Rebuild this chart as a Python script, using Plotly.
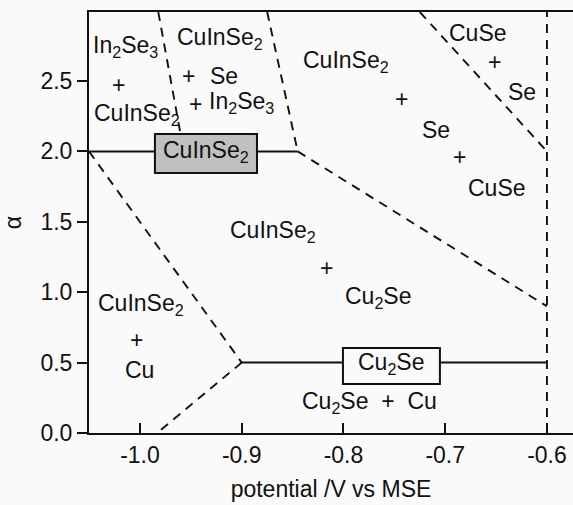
import plotly.graph_objects as go

# Phase boundaries of the Cu-In-Se electrodeposition diagram
# (x: potential / V vs MSE, y: alpha)
dashed_boundaries = [
    ([-1.0501, -0.90], [2.00, 0.50]),    # CuInSe2+Cu / CuInSe2+Cu2Se
    ([-0.90, -0.983], [0.50, 0.00]),     # CuInSe2+Cu / Cu2Se+Cu
    ([-0.982, -0.957], [2.99, 2.00]),    # In2Se3+CuInSe2 / CuInSe2+Se+In2Se3
    ([-0.875, -0.845], [2.99, 2.00]),    # CuInSe2+Se+In2Se3 / CuInSe2+Se+CuSe
    ([-0.845, -0.60], [2.00, 0.90]),     # CuInSe2+Cu2Se / CuInSe2+Se+CuSe
    ([-0.725, -0.60], [2.99, 2.00]),     # CuSe+Se / CuInSe2+Se+CuSe
    ([-0.60, -0.60], [0.00, 2.99]),      # right limit
]
solid_boundaries = [
    ([-1.0501, -0.845], [2.00, 2.00]),   # CuInSe2 single phase
    ([-0.90, -0.60], [0.50, 0.50]),      # Cu2Se single phase
]

# Region labels: text, x, y
region_text = [
    "In<sub>2</sub>Se<sub>3</sub>", "+", "CuInSe<sub>2</sub>",
    "CuInSe<sub>2</sub>", "+", "Se", "+", "In<sub>2</sub>Se<sub>3</sub>",
    "CuInSe<sub>2</sub>", "+", "Se", "+", "CuSe",
    "CuSe", "+", "Se",
    "CuInSe<sub>2</sub>", "+", "Cu<sub>2</sub>Se",
    "CuInSe<sub>2</sub>", "+", "Cu",
    "Cu<sub>2</sub>Se  +  Cu",
]
region_x = [
    -1.0143, -1.0216, -1.003,
    -0.9214, -0.9528, -0.9174, -0.945, -0.9007,
    -0.7975, -0.7425, -0.7091, -0.6855, -0.6491,
    -0.6678, -0.6511, -0.6246,
    -0.8693, -0.8162, -0.7651,
    -0.999, -1.003, -1.0,
    -0.774,
]
region_y = [
    2.745, 2.472, 2.265,
    2.80, 2.536, 2.536, 2.337, 2.345,
    2.635, 2.372, 2.152, 1.960, 1.740,
    2.841, 2.635, 2.422,
    1.428, 1.172, 0.965,
    0.915, 0.660, 0.447,
    0.218,
]

# Boxed single-phase labels: text, x0, x1, y0, y1, fill
phase_text = ["CuInSe<sub>2</sub>", "Cu<sub>2</sub>Se"]
phase_x0 = [-0.9853, -0.8005]
phase_x1 = [-0.885, -0.7052]
phase_y0 = [1.847, 0.348]
phase_y1 = [2.124, 0.604]
phase_fill = ["#c0c0c0", "#fafafa"]

x_ticks = [-1.0, -0.9, -0.8, -0.7, -0.6]
x_ticktext = ["-1.0", "-0.9", "-0.8", "-0.7", "-0.6"]
y_ticks = [0.0, 0.5, 1.0, 1.5, 2.0, 2.5]
y_ticktext = ["0.0", "0.5", "1.0", "1.5", "2.0", "2.5"]

FONT = "Liberation Sans, Arial, sans-serif"
INK = "#111111"
BG = "#fafafa"
FS = 23

fig = go.Figure()

for xs, ys in dashed_boundaries:
    fig.add_trace(go.Scatter(
        x=xs, y=ys, mode="lines", hoverinfo="skip", showlegend=False,
        line=dict(color=INK, width=1.9, dash="9px,7px"),
    ))
for xs, ys in solid_boundaries:
    fig.add_trace(go.Scatter(
        x=xs, y=ys, mode="lines", hoverinfo="skip", showlegend=False,
        line=dict(color=INK, width=2),
    ))

for t, x0, x1, y0, y1, fc in zip(phase_text, phase_x0, phase_x1,
                                 phase_y0, phase_y1, phase_fill):
    fig.add_shape(type="rect", xref="x", yref="y", x0=x0, x1=x1, y0=y0, y1=y1,
                  fillcolor=fc, line=dict(color=INK, width=2), layer="above")
    fig.add_annotation(x=(x0 + x1) / 2, y=(y0 + y1) / 2 + 0.015, text=t,
                       showarrow=False, xanchor="center", yanchor="middle",
                       font=dict(family=FONT, size=FS, color=INK))

for t, x, y in zip(region_text, region_x, region_y):
    fig.add_annotation(x=x, y=y, text=t, showarrow=False,
                       xanchor="center", yanchor="middle",
                       font=dict(family=FONT, size=FS, color=INK))

fig.update_layout(
    width=573, height=505,
    margin=dict(l=89, r=0, t=12, b=72),
    paper_bgcolor=BG, plot_bgcolor=BG,
    font=dict(family=FONT, size=FS, color=INK),
    showlegend=False,
    xaxis=dict(
        range=[-1.0501, -0.5744], tickvals=x_ticks, ticktext=x_ticktext,
        ticks="inside", ticklen=10, tickwidth=2, tickcolor=INK,
        showline=True, linewidth=2, linecolor=INK, mirror=True,
        showgrid=False, zeroline=False,
        tickfont=dict(family=FONT, size=FS, color=INK),
        title=dict(text="potential /V vs MSE", standoff=14,
                   font=dict(family=FONT, size=FS, color=INK)),
    ),
    yaxis=dict(
        range=[0, 2.99], tickvals=y_ticks, ticktext=y_ticktext,
        ticks="outside", ticklen=10, tickwidth=2, tickcolor=INK,
        showline=True, linewidth=2, linecolor=INK, mirror=False,
        showgrid=False, zeroline=False,
        tickfont=dict(family=FONT, size=FS, color=INK),
        title=dict(text="α", standoff=14,
                   font=dict(family=FONT, size=FS, color=INK)),
    ),
)

fig.write_html("out.html")
